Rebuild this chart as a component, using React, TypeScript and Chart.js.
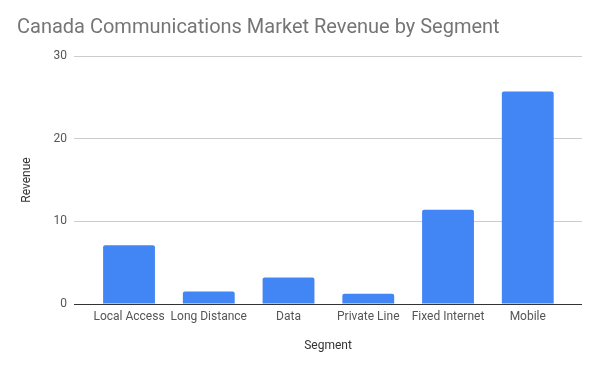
import React, { useEffect, useRef } from "react";
import { Chart, registerables } from "chart.js";

Chart.register(...registerables);

const categories = ["Local Access", "Long Distance", "Data", "Private Line", "Fixed Internet", "Mobile"];
const revenue = [7.1, 1.5, 3.2, 1.25, 11.4, 25.7];
const yTicks = [0, 10, 20, 30];

export default function App() {
  const ref = useRef<HTMLCanvasElement | null>(null);
  useEffect(() => {
    document.body.style.margin = "0";
    const chart = new Chart(ref.current as HTMLCanvasElement, {
      type: "bar",
      data: {
        datasets: [
          {
            label: "Revenue",
            data: revenue.map((v, i) => ({ x: i, y: v })),
            backgroundColor: "#4285F4",
            borderRadius: 2,
            borderSkipped: "bottom",
            barPercentage: 0.65,
            categoryPercentage: 1,
          },
        ],
      },
      options: {
        responsive: false,
        animation: false,
        layout: { padding: { left: 17, right: 18, top: 0, bottom: 0 } },
        plugins: {
          legend: { display: false },
          tooltip: { enabled: false },
          title: {
            display: true,
            text: "Canada Communications Market Revenue by Segment",
            align: "start",
            color: "#757575",
            font: { family: "Roboto", size: 20, weight: "normal" },
            padding: { top: 16, bottom: 16 },
          },
        },
        scales: {
          x: {
            type: "linear",
            offset: false,
            min: -0.69,
            max: categories.length - 1 + 0.68,
            afterBuildTicks: (s: any) => {
              s.ticks = categories.map((_, i) => ({ value: i }));
            },
            grid: { display: false, drawTicks: false, offset: false },
            border: { display: false },
            ticks: {
              color: "#555",
              font: { family: "Roboto", size: 12 },
              padding: 6,
              maxRotation: 0,
              autoSkip: false,
              callback: (v: any) => categories[v] ?? "",
            },
            title: {
              display: true,
              text: "Segment",
              color: "#333",
              font: { family: "Roboto", size: 12 },
              padding: { top: 4, bottom: 18 },
            },
            afterFit: (s: any) => {
              s.height = 67;
            },
          },
          y: {
            min: 0,
            max: 30,
            afterBuildTicks: (s: any) => {
              s.ticks = yTicks.map((v) => ({ value: v }));
            },
            grid: {
              drawTicks: false,
              color: (c: any) => (c.tick && c.tick.value === 0 ? "#333333" : "#cccccc"),
              lineWidth: 1,
            },
            border: { display: false },
            ticks: { color: "#555", font: { family: "Roboto", size: 12 }, padding: 7 },
            title: {
              display: true,
              text: "Revenue",
              color: "#333",
              font: { family: "Roboto", size: 12 },
              padding: { top: 3, bottom: 0 },
            },
            afterFit: (s: any) => {
              s.width = 57;
            },
          },
        },
      },
    });
    return () => chart.destroy();
  }, []);
  return <canvas ref={ref} width={600} height={371} style={{ display: "block" }} />;
}
